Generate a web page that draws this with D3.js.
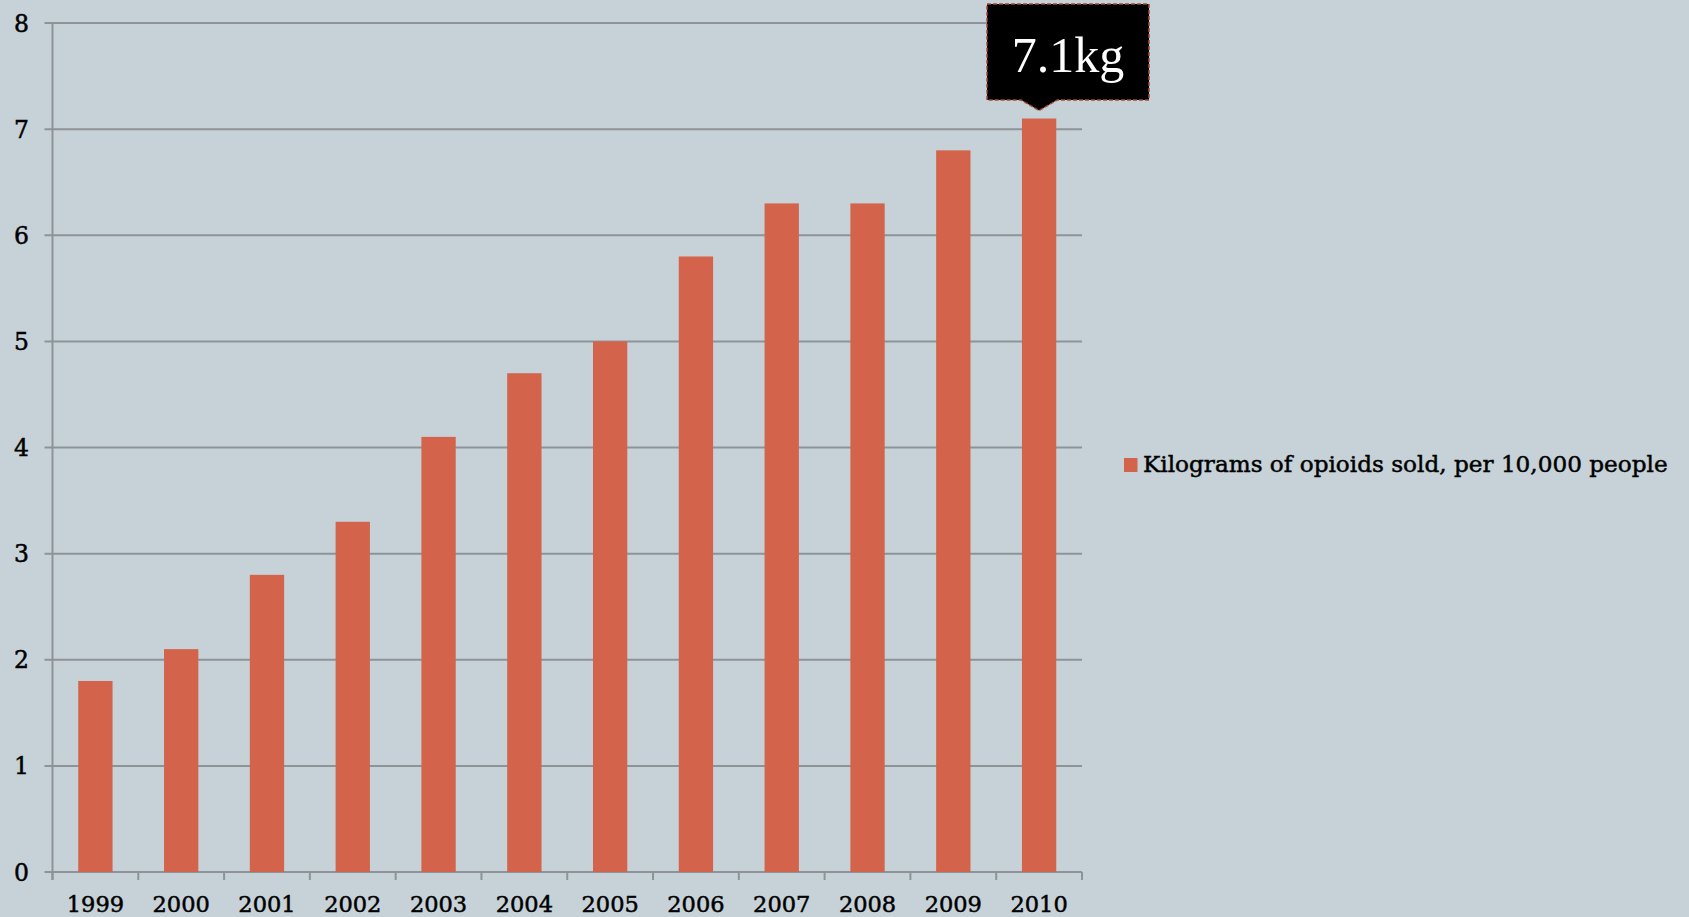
<!DOCTYPE html>
<html><head><meta charset="utf-8">
<script src="https://cdn.jsdelivr.net/npm/d3@7"></script>
<style>html,body{margin:0;padding:0;background:#c6d2d8;}svg{display:block;}</style>
</head><body>
<svg id="c" width="1689" height="917"></svg>
<script>
const years = ["1999","2000","2001","2002","2003","2004","2005","2006","2007","2008","2009","2010"];
const values = [1.8, 2.1, 2.8, 3.3, 4.1, 4.7, 5.0, 5.8, 6.3, 6.3, 6.8, 7.1];
const yTicks = [0,1,2,3,4,5,6,7,8];
const seriesName = "Kilograms of opioids sold, per 10,000 people";
const calloutText = "7.1kg";

const svg = d3.select("#c");
const W = 1689, H = 917;
svg.append("rect").attr("width", W).attr("height", H).attr("fill", "#c6d2d8");
const m = {left: 52.5, right: 1082, top: 23, bottom: 872};
const font = "'DejaVu Serif', 'Liberation Serif', serif";
const font2 = "'Liberation Serif', 'DejaVu Serif', serif";
const gridCol = "#8e9397";
const thick = 0.5;

const x = d3.scaleBand().domain(years).range([m.left, m.right]).paddingInner(0.6).paddingOuter(0.3);
const y = d3.scaleLinear().domain([0, 8]).range([m.bottom, m.top]);

// gridlines
svg.append("g").selectAll("line").data(yTicks).join("line")
  .attr("x1", m.left - 8).attr("x2", m.right)
  .attr("y1", d => y(d)).attr("y2", d => y(d))
  .attr("stroke", gridCol).attr("stroke-width", 2);

// y axis line
svg.append("line").attr("x1", m.left).attr("x2", m.left).attr("y1", m.top).attr("y2", m.bottom + 8)
  .attr("stroke", gridCol).attr("stroke-width", 2);

// y labels
svg.append("g").selectAll("text").data(yTicks).join("text")
  .attr("x", 29).attr("y", d => y(d) + 8.5)
  .attr("text-anchor", "end").attr("font-family", font).attr("font-size", 23.5).attr("fill", "#000")
  .attr("stroke", "#000").attr("stroke-width", thick)
  .text(d => d);

// x ticks at band boundaries
const bounds = d3.range(years.length + 1).map(i => m.left + i * (m.right - m.left) / years.length);
svg.append("g").selectAll("line").data(bounds).join("line")
  .attr("x1", d => d).attr("x2", d => d).attr("y1", m.bottom).attr("y2", m.bottom + 8)
  .attr("stroke", gridCol).attr("stroke-width", 2);

// bars
svg.append("g").selectAll("rect").data(values).join("rect")
  .attr("x", (d, i) => x(years[i])).attr("width", x.bandwidth())
  .attr("y", d => y(d)).attr("height", d => y(0) - y(d))
  .attr("fill", "#d3644b");

// x labels
svg.append("g").selectAll("text").data(years).join("text")
  .attr("x", d => x(d) + x.bandwidth() / 2).attr("y", 912)
  .attr("text-anchor", "middle").attr("font-family", font).attr("font-size", 22.5).attr("fill", "#000")
  .attr("stroke", "#000").attr("stroke-width", thick)
  .text(d => d);

// legend
svg.append("rect").attr("x", 1124).attr("y", 458).attr("width", 13.5).attr("height", 14).attr("fill", "#d3644b");
const lt = svg.append("text").attr("x", 1143).attr("y", 472).attr("font-family", font).attr("font-size", 23)
  .attr("fill", "#000").attr("stroke", "#000").attr("stroke-width", thick).text(seriesName);
const len = lt.node().getComputedTextLength();
if (len > 0) lt.attr("font-size", 23 * 525 / len);

// callout
const last = years.length - 1;
const cx = x(years[last]) + x.bandwidth() / 2;
const tipY = y(values[last]) - 8;
const bx0 = 987, bx1 = 1149, by0 = 4, by1 = 100;
const path = `M${bx0},${by0} L${bx1},${by0} L${bx1},${by1} L${cx + 18},${by1} L${cx},${tipY} L${cx - 18},${by1} L${bx0},${by1} Z`;
svg.append("path").attr("d", path).attr("fill", "#000").attr("stroke", "#a34a35")
  .attr("stroke-width", 1.5).attr("stroke-dasharray", "4,2");
svg.append("text").attr("x", (bx0 + bx1) / 2).attr("y", 72).attr("text-anchor", "middle")
  .attr("font-family", font2).attr("font-size", 50).attr("fill", "#fff").text(calloutText);
</script>
</body></html>
